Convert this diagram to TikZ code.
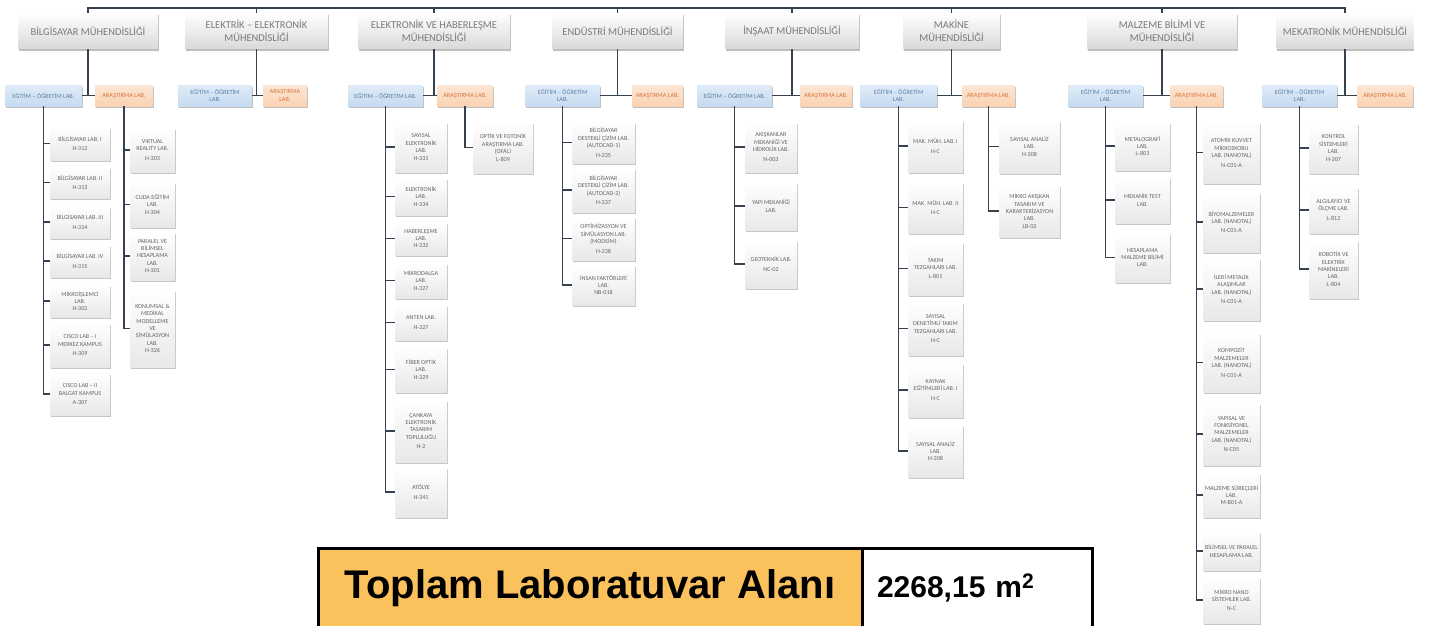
\documentclass[tikz,border=0pt]{standalone}
\usepackage{fontspec}
\setmainfont{Carlito}
\newfontfamily\arialfont{Liberation Sans}
\usetikzlibrary{shadows}

\definecolor{linecol}{HTML}{36414F}
\definecolor{hdrtext}{HTML}{7A7A7A}
\definecolor{labtext}{HTML}{666666}
\definecolor{egtfill}{HTML}{C6DBF1}
\definecolor{egttext}{HTML}{5A7FA6}
\definecolor{arsfill}{HTML}{FAD2B2}
\definecolor{arstext}{HTML}{D9773A}
\definecolor{totfill}{HTML}{FAC15C}

\tikzset{
  conn/.style={draw=linecol, line width=1.9pt},
  hdr/.style={top color=white, bottom color=gray!30, text=hdrtext,
    drop shadow={shadow xshift=.5pt, shadow yshift=-2.5pt, opacity=.5},
    font=\fontsize{10.5}{12.5}\selectfont, align=center, inner sep=1pt},
  egt/.style={top color=egtfill!55, bottom color=egtfill, text=egttext,
    drop shadow={shadow xshift=.5pt, shadow yshift=-2pt, opacity=.5},
    font=\fontsize{6.3}{7.3}\selectfont, align=center, inner sep=1pt,
    minimum height=21pt},
  ars/.style={top color=arsfill!55, bottom color=arsfill, text=arstext,
    drop shadow={shadow xshift=.5pt, shadow yshift=-2pt, opacity=.5},
    font=\fontsize{6.3}{7.3}\selectfont, align=center, inner sep=1pt,
    minimum height=21pt},
  lab/.style={top color=white, bottom color=gray!18, text=labtext,
    drop shadow={shadow xshift=.5pt, shadow yshift=-2pt, opacity=.45},
    font=\fontsize{6.1}{7.4}\selectfont, align=center, inner sep=1pt,
    minimum width=#1},
}

\begin{document}
\begin{tikzpicture}[x=1pt,y=-1pt]
  \useasboundingbox (0,0) rectangle (1429,626);

  % departments
  \node[hdr, minimum width=140pt, minimum height=36pt] (bilgisayar) at (88,31) {BİLGİSAYAR MÜHENDİSLİĞİ};
  \node[hdr, minimum width=143pt, minimum height=36pt] (elektrik) at (256.5,31) {ELEKTRİK – ELEKTRONİK\\MÜHENDİSLİĞİ};
  \node[hdr, minimum width=152pt, minimum height=36pt] (haberlesme) at (434,31) {ELEKTRONİK VE HABERLEŞME\\MÜHENDİSLİĞİ};
  \node[hdr, minimum width=131pt, minimum height=36pt] (endustri) at (617.5,31) {ENDÜSTRİ MÜHENDİSLİĞİ};
  \node[hdr, minimum width=134pt, minimum height=36pt] (insaat) at (792,31) {İNŞAAT MÜHENDİSLİĞİ};
  \node[hdr, minimum width=97pt, minimum height=36pt] (makine) at (951.5,31) {MAKİNE\\MÜHENDİSLİĞİ};
  \node[hdr, minimum width=150pt, minimum height=36pt] (malzeme) at (1162,31) {MALZEME BİLİMİ VE\\MÜHENDİSLİĞİ};
  \node[hdr, minimum width=137pt, minimum height=36pt] (mekatronik) at (1345,31) {MEKATRONİK MÜHENDİSLİĞİ};

  \coordinate (top) at (0,8);
  \draw[conn] (bilgisayar.north) |- (top -| mekatronik.north) -- (mekatronik.north);
  \foreach \h in {elektrik,haberlesme,endustri,insaat,makine,malzeme}
    \draw[conn] (\h.north) -- (\h.north |- top);

  % lab groups
  \node[egt, minimum width=77pt] (bilEgt) at (43.5,95.5) {EĞİTİM – ÖĞRETİM LAB.};
  \node[ars, minimum width=58pt] (bilArs) at (124,95.5) {ARAŞTIRMA LAB.};
  \node[egt, minimum width=74pt] (elkEgt) at (215,95.5) {EĞİTİM – ÖĞRETİM\\LAB.};
  \node[ars, minimum width=44pt] (elkArs) at (285,95.5) {ARAŞTIRMA\\LAB.};
  \node[egt, minimum width=75pt] (habEgt) at (385.5,95.5) {EĞİTİM – ÖĞRETİM LAB.};
  \node[ars, minimum width=56pt] (habArs) at (465,95.5) {ARAŞTIRMA LAB.};
  \node[egt, minimum width=75pt] (endEgt) at (562.5,95.5) {EĞİTİM – ÖĞRETİM\\LAB.};
  \node[ars, minimum width=51pt] (endArs) at (657.5,95.5) {ARAŞTIRMA LAB.};
  \node[egt, minimum width=75pt] (insEgt) at (734.5,95.5) {EĞİTİM – ÖĞRETİM LAB.};
  \node[ars, minimum width=52pt] (insArs) at (826,95.5) {ARAŞTIRMA LAB.};
  \node[egt, minimum width=77pt] (makEgt) at (898.5,95.5) {EĞİTİM – ÖĞRETİM\\LAB.};
  \node[ars, minimum width=53pt] (makArs) at (988.5,95.5) {ARAŞTIRMA LAB.};
  \node[egt, minimum width=75pt] (malEgt) at (1105.5,95.5) {EĞİTİM – ÖĞRETİM\\LAB.};
  \node[ars, minimum width=53pt] (malArs) at (1196.5,95.5) {ARAŞTIRMA LAB.};
  \node[egt, minimum width=75pt] (mekEgt) at (1299.5,95.5) {EĞİTİM – ÖĞRETİM\\LAB.};
  \node[ars, minimum width=56pt] (mekArs) at (1385,95.5) {ARAŞTIRMA LAB.};

  \foreach \d/\g in {bilgisayar/bil,elektrik/elk,haberlesme/hab,endustri/end,insaat/ins,makine/mak,malzeme/mal,mekatronik/mek}{
    \draw[conn] (\d.south) -- (\d.south |- \g Egt.east);
    \draw[conn] (\g Egt.east) -- (\g Ars.west);
  }

  % bilgisayar
  \node[lab=60pt, minimum height=33pt] (bilE1) at (80,143.5) {BİLGİSAYAR LAB. I\\[2pt]H-312};
  \node[lab=60pt, minimum height=31pt] (bilE2) at (80,182.5) {BİLGİSAYAR LAB. II\\[2pt]H-313};
  \node[lab=60pt, minimum height=32pt] (bilE3) at (80,222) {BİLGİSAYAR LAB. III\\[2pt]H-314};
  \node[lab=60pt, minimum height=32pt] (bilE4) at (80,261) {BİLGİSAYAR LAB. IV\\[2pt]H-315};
  \node[lab=60pt, minimum height=32pt] (bilE5) at (80,301) {MİKROİŞLEMCİ\\LAB.\\H-302};
  \node[lab=60pt, minimum height=44pt] (bilE6) at (80,345) {CISCO LAB – I\\[1pt]MERKEZ KAMPUS\\[1pt]H-309};
  \node[lab=60pt, minimum height=42pt] (bilE7) at (80,394) {CISCO LAB – II\\[1pt]BALGAT KAMPUS\\[1pt]A-307};
  \node[lab=45pt, minimum height=44pt] (bilA1) at (152.5,150) {VIRTUAL\\REALITY LAB.\\[3pt]H-303};
  \node[lab=45pt, minimum height=45pt] (bilA2) at (152.5,204.5) {CUDA EĞİTİM\\LAB.\\H-304};
  \node[lab=45pt, minimum height=48pt] (bilA3) at (152.5,256) {PARALEL VE\\BİLİMSEL\\HESAPLAMA\\LAB.\\H-301};
  \node[lab=45pt, minimum height=77pt] (bilA4) at (152.5,328.5) {KONUMSAL \&\\MEDİKAL\\MODELLEME\\VE\\SİMÜLASYON\\LAB.\\H-326};
  \draw[conn] (bilEgt.south) |- (bilE7.west);
  \foreach \i in {1,...,6} \draw[conn] (bilEgt.south |- bilE\i.west) -- (bilE\i.west);
  \draw[conn] (bilArs.south) |- (bilA4.west);
  \foreach \i in {1,2,3} \draw[conn] (bilArs.south |- bilA\i.west) -- (bilA\i.west);

  % elektronik ve haberlesme
  \node[lab=52pt, minimum height=50pt] (habE1) at (421,147) {SAYISAL\\ELEKTRONİK\\LAB.\\H-331};
  \node[lab=52pt, minimum height=37pt] (habE2) at (421,196.5) {ELEKTRONİK\\LAB.\\H-334};
  \node[lab=52pt, minimum height=33pt] (habE3) at (421,238.5) {HABERLEŞME\\LAB.\\H-332};
  \node[lab=52pt, minimum height=35pt] (habE4) at (421,280.5) {MİKRODALGA\\LAB.\\H-327};
  \node[lab=52pt, minimum height=35pt] (habE5) at (421,322.5) {ANTEN LAB.\\[2pt]H-327};
  \node[lab=52pt, minimum height=45pt] (habE6) at (421,369.5) {FİBER OPTİK\\LAB.\\H-329};
  \node[lab=52pt, minimum height=62pt] (habE7) at (421,431) {ÇANKAYA\\ELEKTRONİK\\TASARIM\\TOPLULUĞU\\[2pt]H-2};
  \node[lab=52pt, minimum height=50pt] (habE8) at (421,492) {ATÖLYE\\[2pt]H-341};
  \node[lab=60pt, minimum height=51pt] (habA1) at (503,147.5) {OPTİK VE FOTONİK\\ARAŞTIRMA LAB.\\(OFAL)\\L-809};
  \draw[conn] (habEgt.south) |- (habE8.west);
  \foreach \i in {1,...,7} \draw[conn] (habEgt.south |- habE\i.west) -- (habE\i.west);
  \draw[conn] (habArs.south) |- (habA1.west);

  % endustri
  \node[lab=63pt, minimum height=41pt] (endE1) at (603.5,142.5) {BİLGİSAYAR\\DESTEKLİ ÇİZİM LAB.\\(AUTOCAD-1)\\[2pt]H-335};
  \node[lab=63pt, minimum height=44pt] (endE2) at (603.5,190) {BİLGİSAYAR\\DESTEKLİ ÇİZİM LAB.\\(AUTOCAD-2)\\[2pt]H-337};
  \node[lab=63pt, minimum height=43pt] (endE3) at (603.5,238.5) {OPTİMİZASYON VE\\SİMÜLASYON LAB.\\(MODSİM)\\[2pt]H-338};
  \node[lab=63pt, minimum height=40pt] (endE4) at (603.5,285) {İNSAN FAKTÖRLERİ\\LAB.\\NB-018};
  \draw[conn] (endEgt.south) |- (endE4.west);
  \foreach \i in {1,2,3} \draw[conn] (endEgt.south |- endE\i.west) -- (endE\i.west);

  % insaat
  \node[lab=52pt, minimum height=50pt] (insE1) at (771,147) {AKIŞKANLAR\\MEKANİĞİ VE\\HİDROLİK LAB.\\[2pt]N-003};
  \node[lab=52pt, minimum height=48pt] (insE2) at (771,206) {YAPI MEKANİĞİ\\LAB.};
  \node[lab=52pt, minimum height=48pt] (insE3) at (771,264) {GEOTEKNİK LAB.\\[2pt]NC-02};
  \draw[conn] (insEgt.south) |- (insE3.west);
  \foreach \i in {1,2} \draw[conn] (insEgt.south |- insE\i.west) -- (insE\i.west);

  % makine
  \node[lab=55pt, minimum height=52pt] (makE1) at (935.5,146) {MAK. MÜH. LAB. I\\[2pt]H-C};
  \node[lab=55pt, minimum height=51pt] (makE2) at (935.5,207.5) {MAK. MÜH. LAB. II\\[2pt]H-C};
  \node[lab=55pt, minimum height=53pt] (makE3) at (935.5,268.5) {TAKIM\\TEZGAHLARI LAB.\\[2pt]L-801};
  \node[lab=55pt, minimum height=53pt] (makE4) at (935.5,328.5) {SAYISAL\\DENETİMLİ TAKIM\\TEZGAHLARI LAB.\\[2pt]H-C};
  \node[lab=55pt, minimum height=54pt] (makE5) at (935.5,390) {KAYNAK\\EĞİTİMLERİ LAB. I\\[2pt]H-C};
  \node[lab=55pt, minimum height=52pt] (makE6) at (935.5,451) {SAYISAL ANALİZ\\LAB.\\H-308};
  \node[lab=61pt, minimum height=53pt] (makA1) at (1029.5,146.5) {SAYISAL ANALİZ\\LAB.\\H-308};
  \node[lab=61pt, minimum height=52pt] (makA2) at (1029.5,211) {MİKRO AKIŞKAN\\TASARIM VE\\KARAKTERİZASYON\\LAB.\\LB-02};
  \draw[conn] (makEgt.south) |- (makE6.west);
  \foreach \i in {1,...,5} \draw[conn] (makEgt.south |- makE\i.west) -- (makE\i.west);
  \draw[conn] (makArs.south) |- (makA2.west);
  \draw[conn] (makArs.south |- makA1.west) -- (makA1.west);

  % malzeme
  \node[lab=55pt, minimum height=48pt] (malE1) at (1142.5,146) {METALOGRAFİ\\LAB.\\L-803};
  \node[lab=55pt, minimum height=46pt] (malE2) at (1142.5,200) {MEKANİK TEST\\LAB.};
  \node[lab=55pt, minimum height=49pt] (malE3) at (1142.5,257.5) {HESAPLAMA\\MALZEME BİLİMİ\\LAB.};
  \node[lab=57pt, minimum height=61pt] (malA1) at (1231.5,152.5) {ATOMİK KUVVET\\MİKROSKOBU\\LAB. (NANOTAL)\\[2pt]N-C01-A};
  \node[lab=57pt, minimum height=60pt] (malA2) at (1231.5,222) {BİYOMALZEMELER\\LAB. (NANOTAL)\\[2pt]N-C01-A};
  \node[lab=57pt, minimum height=62pt] (malA3) at (1231.5,289) {İLERİ METALİK\\ALAŞIMLAR\\LAB. (NANOTAL)\\[2pt]N-C01-A};
  \node[lab=57pt, minimum height=59pt] (malA4) at (1231.5,362.5) {KOMPOZİT\\MALZEMELER\\LAB. (NANOTAL)\\[2pt]N-C01-A};
  \node[lab=57pt, minimum height=62pt] (malA5) at (1231.5,434) {YAPISAL VE\\FONKSİYONEL\\MALZEMELER\\LAB. (NANOTAL)\\[2pt]N-C05};
  \node[lab=57pt, minimum height=44pt] (malA6) at (1231.5,495) {MALZEME SÜREÇLERİ\\LAB.\\M-B01-A};
  \node[lab=57pt, minimum height=38pt] (malA7) at (1231.5,551) {BİLİMSEL VE PARALEL\\HESAPLAMA LAB.};
  \node[lab=57pt, minimum height=46pt] (malA8) at (1231.5,600) {MİKRO NANO\\SİSTEMLER LAB.\\[2pt]N-C};
  \draw[conn] (malEgt.south) |- (malE3.west);
  \foreach \i in {1,2} \draw[conn] (malEgt.south |- malE\i.west) -- (malE\i.west);
  \draw[conn] (malArs.south) |- (malA8.west);
  \foreach \i in {1,...,7} \draw[conn] (malArs.south |- malA\i.west) -- (malA\i.west);

  % mekatronik
  \node[lab=49pt, minimum height=50pt] (mekE1) at (1333.5,148) {KONTROL\\SİSTEMLERİ\\LAB.\\H-307};
  \node[lab=49pt, minimum height=46pt] (mekE2) at (1333.5,210) {ALGILAYICI VE\\ÖLÇME LAB.\\[2pt]L-812};
  \node[lab=49pt, minimum height=58pt] (mekE3) at (1333.5,269) {ROBOTİK VE\\ELEKTRİK\\MAKİNELERİ\\LAB.\\L-804};
  \draw[conn] (mekEgt.south) |- (mekE3.west);
  \foreach \i in {1,2} \draw[conn] (mekEgt.south |- mekE\i.west) -- (mekE\i.west);

  % total
  \node[draw=black, line width=3pt, fill=totfill, minimum width=544pt, minimum height=80pt,
    font=\arialfont\bfseries\fontsize{40}{44}\selectfont] (toplam) at (590,588) {Toplam Laboratuvar Alanı};
  \node[draw=black, line width=3pt, fill=white, text width=200pt, inner xsep=15pt, minimum height=80pt,
    align=left, font=\arialfont\bfseries\fontsize{30}{34}\selectfont] (alan) at (977,588) {2268,15 m\textsuperscript{2}};
\end{tikzpicture}
\end{document}
